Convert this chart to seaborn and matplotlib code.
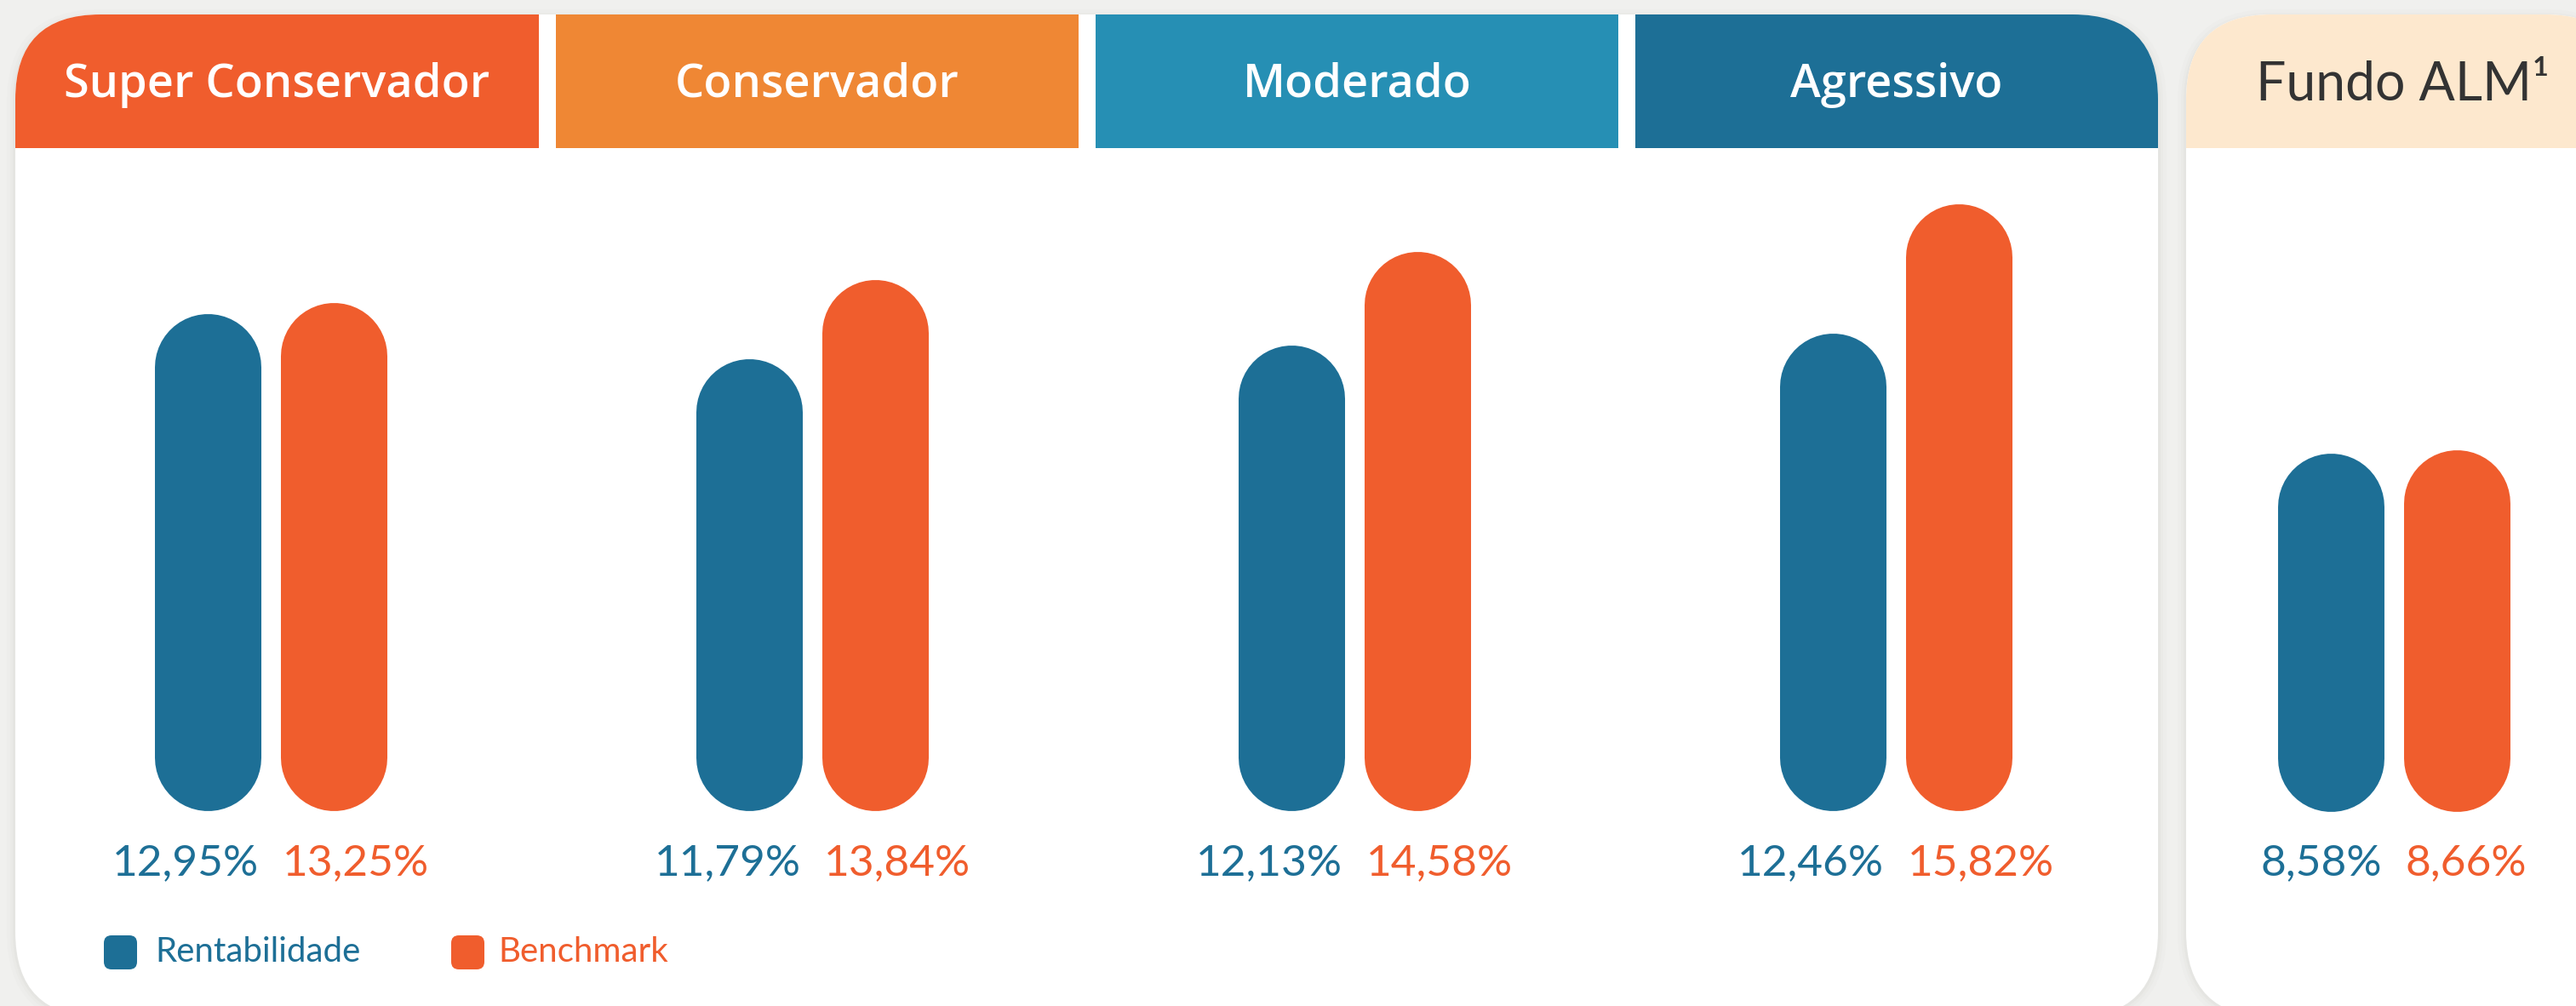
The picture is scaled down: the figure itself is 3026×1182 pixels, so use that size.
#Chart: rentabilidade x benchmark por perfil de investimento

import pandas as pd
import matplotlib
matplotlib.use("Agg")
import matplotlib.pyplot as plt
import seaborn as sns
from matplotlib.patches import FancyBboxPatch
from matplotlib.lines import Line2D
from matplotlib.transforms import IdentityTransform

W, H = 3026, 1182
DPI = 100

#Data
profiles = ["Super Conservador", "Conservador", "Moderado", "Agressivo"]
rentabilidade = [12.95, 11.79, 12.13, 12.46]
benchmark = [13.25, 13.84, 14.58, 15.82]
alm_profile = ["Fundo ALM¹"]
alm_rentabilidade = [8.58]
alm_benchmark = [8.66]
series = ["Rentabilidade", "Benchmark"]

BLUE = "#1d6f96"
ORANGE = "#f05d2d"
HEADER_COLORS = ["#f05d2d", "#ef8734", "#268fb4", "#1d6f96"]
ALM_HEADER = "#fde8ce"
BG = "#f0f0ee"

sns.set_theme(style="white")
plt.rcParams["font.family"] = ["Lato", "DejaVu Sans"]

fig = plt.figure(figsize=(W / DPI, H / DPI), dpi=DPI, facecolor=BG)
ident = IdentityTransform()


def pbox(x0, y0, x1, y1, radius=0, **kw):
    #Rounded box in pixel coords measured from the top-left corner.
    style = f"round,pad=0,rounding_size={radius}" if radius else "square,pad=0"
    p = FancyBboxPatch((x0, H - y1), x1 - x0, y1 - y0, boxstyle=style,
                       transform=ident, **kw)
    fig.add_artist(p)
    return p


def ptext(x, y, s, **kw):
    return fig.text(x, H - y, s, transform=ident, **kw)


#Panels with a soft shadow
for x0, x1 in [(18, 2535), (2568, 3090)]:
    for k, a in [(10, 0.10), (6, 0.15), (3, 0.25)]:
        pbox(x0 - k, 17 - k + 4, x1 + k, 1195 + k, radius=100 + k,
             fc="#d9d9d6", ec="none", alpha=a, zorder=-5)
panel1 = pbox(18, 17, 2535, 1195, radius=100, fc="white", ec="none", zorder=-4)
panel2 = pbox(2568, 17, 3090, 1195, radius=100, fc="white", ec="none", zorder=-4)

#Header strips
header_x = [(18, 633), (653, 1267), (1287, 1901), (1921, 2535)]
for (x0, x1), c, name in zip(header_x, HEADER_COLORS, profiles):
    r = pbox(x0, 17, x1, 174, fc=c, ec="none", zorder=-3)
    r.set_clip_path(panel1)
    ptext((x0 + x1) / 2, 100, name, ha="center", va="center", color="white",
          fontsize=39, fontweight="semibold",
          family=["Open Sans", "Lato", "DejaVu Sans"])
r = pbox(2568, 17, 3090, 174, fc=ALM_HEADER, ec="none", zorder=-3)
r.set_clip_path(panel2)
ptext(2822, 100, alm_profile[0], ha="center", va="center", color="#333333",
      fontsize=45, fontweight="normal")


def round_bars(ax):
    #Swap the seaborn bars for pill shaped ones at the same place.
    for p in list(ax.patches):
        x0, y0 = ax.transData.transform((p.get_x(), p.get_y()))
        x1, y1 = ax.transData.transform((p.get_x() + p.get_width(),
                                         p.get_y() + p.get_height()))
        w = x1 - x0
        xc = (x0 + x1) / 2
        pill = Line2D([xc, xc], [y0 + w / 2, y1 - w / 2], transform=ident,
                      color=p.get_facecolor(), linewidth=w * 72 / DPI,
                      solid_capstyle="round", clip_on=False, zorder=3)
        ax.add_artist(pill)
        p.set_visible(False)


def value_labels(ax, rent, bench):
    for i, (a, b) in enumerate(zip(rent, bench)):
        ax.annotate(f"{a:.2f}%".replace(".", ","), xy=(i, 0), xytext=(-10, -44),
                    textcoords="offset points", ha="right", va="center",
                    color=BLUE, fontsize=37)
        ax.annotate(f"{b:.2f}%".replace(".", ","), xy=(i, 0), xytext=(10, -44),
                    textcoords="offset points", ha="left", va="center",
                    color=ORANGE, fontsize=37)


BASE = 953   # bar bottom, px from top
TOP = 174

#Main panel
df = pd.DataFrame({
    "perfil": profiles * 2,
    "serie": [series[0]] * len(profiles) + [series[1]] * len(profiles),
    "valor": rentabilidade + benchmark,
})
ax = fig.add_axes([18 / W, (H - BASE) / H, (2535 - 18) / W, (BASE - TOP) / H])
ax.patch.set_alpha(0)
sns.barplot(data=df, x="perfil", y="valor", hue="serie", hue_order=series,
            palette=[BLUE, ORANGE], saturation=1, width=0.465, gap=0.155,
            errorbar=None, legend=False, ax=ax)
ax.set_xlim(-0.4715, 3.484)
ax.set_ylim(0, (BASE - TOP) / 45.1)
ax.axis("off")
round_bars(ax)
value_labels(ax, rentabilidade, benchmark)

#Fundo ALM panel
df_alm = pd.DataFrame({
    "perfil": alm_profile * 2,
    "serie": series,
    "valor": alm_rentabilidade + alm_benchmark,
})
ax2 = fig.add_axes([(2812 - 318) / W, (H - BASE) / H, 636 / W, (BASE - TOP) / H])
ax2.patch.set_alpha(0)
sns.barplot(data=df_alm, x="perfil", y="valor", hue="serie", hue_order=series,
            palette=[BLUE, ORANGE], saturation=1, width=0.465, gap=0.155,
            errorbar=None, legend=False, ax=ax2)
ax2.set_xlim(-0.5, 0.5)
ax2.set_ylim(0, (BASE - TOP) / 49.0)
ax2.axis("off")
round_bars(ax2)
value_labels(ax2, alm_rentabilidade, alm_benchmark)

#Legend
for (x0, tx), name, c in zip([(122, 182), (530, 585)], series, [BLUE, ORANGE]):
    pbox(x0, 1099, x0 + 39, 1139, radius=9, fc=c, ec="none", zorder=2)
    ptext(tx, 1119, name, ha="left", va="center", color=c, fontsize=29)

fig.savefig("out.png", dpi=DPI, facecolor=BG)
